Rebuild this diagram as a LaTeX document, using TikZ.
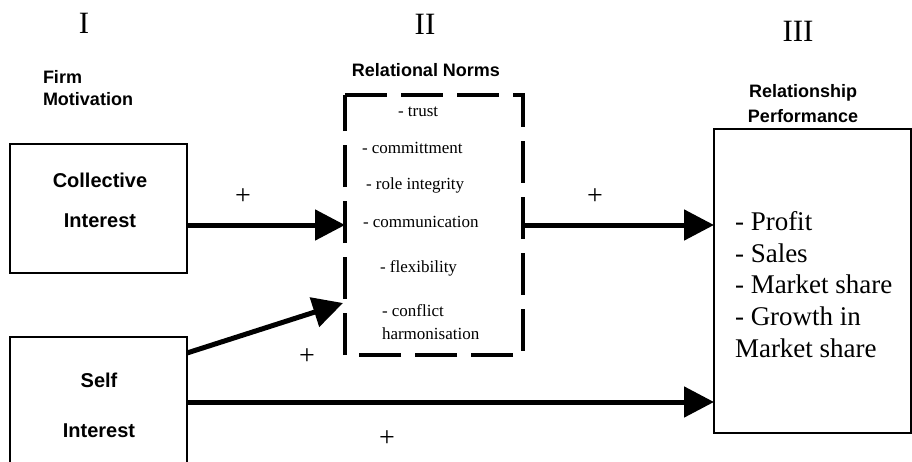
\documentclass[tikz,border=0pt]{standalone}
\usepackage{fontspec}
\setmainfont{Liberation Serif}
\newfontfamily\arialf{Liberation Sans}
\usetikzlibrary{arrows.meta}
\tikzset{
  every node/.style={inner sep=0pt, outer sep=0pt},
  head/.style={font=\arialf\bfseries\fontsize{18}{22}\selectfont},
  boxlabel/.style={font=\arialf\bfseries\fontsize{20}{24}\selectfont},
  roman/.style={font=\fontsize{31}{36}\selectfont},
  norm/.style={font=\fontsize{17}{20}\selectfont, anchor=base west},
  perfitem/.style={font=\fontsize{27}{32}\selectfont, anchor=base west},
  plus/.style={font=\fontsize{28}{32}\selectfont},
  solidbox/.style={draw, line width=1.2pt, anchor=north west},
  arr/.style={line width=5pt, -{Triangle[length=30pt,width=30pt]}},
}
\begin{document}
\begin{tikzpicture}[x=1pt,y=-1pt]
\useasboundingbox (0,0) rectangle (912,461);

% roman numerals
\node[roman, anchor=base] (r1) at (84,33) {I};
\node[roman, anchor=base] (r2) at (425,34) {II};
\node[roman, anchor=base] (r3) at (798,41) {III};

% headings
\node[head, anchor=base west] (h1a) at (43,83) {Firm};
\node[head, anchor=base west] (h1b) at (43,105) {Motivation};
\node[head, anchor=base] (h2) at (426,76) {Relational Norms};
\node[head, anchor=base] (h3a) at (803,97) {Relationship};
\node[head, anchor=base] (h3b) at (803,122) {Performance};

% boxes
\node[solidbox, minimum width=177pt, minimum height=129pt] (coll) at (10,144) {};
\node[boxlabel, anchor=base] (collt1) at (100,187) {Collective};
\node[boxlabel, anchor=base] (collt2) at (100,227) {Interest};

\node[solidbox, minimum width=177pt, minimum height=150pt] (self) at (10,337) {};
\node[boxlabel, anchor=base] (selft1) at (99,387) {Self};
\node[boxlabel, anchor=base] (selft2) at (99,437) {Interest};

\node[solidbox, minimum width=197pt, minimum height=304pt] (perf) at (714,129) {};

\node[anchor=north west, minimum width=178pt, minimum height=260pt] (norms) at (345,95) {};
\draw[line width=4pt, dash pattern=on 42pt off 14pt]
  (norms.north west) -- (norms.north east) -- (norms.south east) -- (norms.south west) -- cycle;

% norm items
\node[norm] (n1) at (398,116) {- trust};
\node[norm] (n2) at (362,153) {- committment};
\node[norm] (n3) at (366,189) {- role integrity};
\node[norm] (n4) at (363,227) {- communication};
\node[norm] (n5) at (380,272) {- flexibility};
\node[norm] (n6) at (382,316) {- conflict};
\node[norm] (n7) at (382,339) {harmonisation};

% performance items
\node[perfitem] (p1) at (735,230) {- Profit};
\node[perfitem] (p2) at (735,262) {- Sales};
\node[perfitem] (p3) at (735,293) {- Market share};
\node[perfitem] (p4) at (735,325) {- Growth in};
\node[perfitem] (p5) at (735,357) {Market share};

% arrows
\coordinate (ya) at (0,225);
\coordinate (yb) at (0,353);
\coordinate (yc) at (0,303);
\coordinate (yd) at (0,402);
\draw[arr] (coll.east |- ya) -- (norms.west |- ya);
\draw[arr] (norms.east |- ya) -- (perf.west |- ya);
\draw[arr] (self.east |- yb) -- ([xshift=-2pt]norms.west |- yc);
\draw[arr] (self.east |- yd) -- (perf.west |- yd);

% plus signs
\node[plus] (s1) at (243,197) {+};
\node[plus] (s2) at (595,197) {+};
\node[plus] (s3) at (307,357) {+};
\node[plus] (s4) at (387,439) {+};
\end{tikzpicture}
\end{document}
